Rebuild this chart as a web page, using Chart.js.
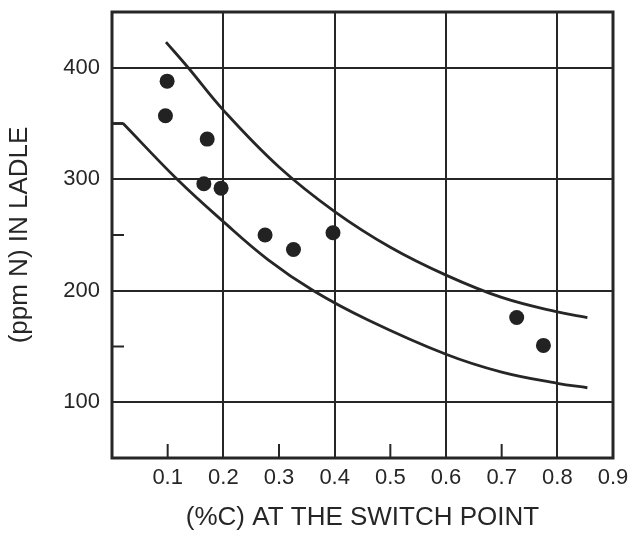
<!DOCTYPE html>
<html>
<head>
<meta charset="utf-8">
<script src="https://cdn.jsdelivr.net/npm/chart.js@4.4.1/dist/chart.umd.min.js"></script>
<style>
  html, body { margin: 0; padding: 0; background: #ffffff; }
  #wrap { width: 634px; height: 536px; }
</style>
</head>
<body>
<div id="wrap"><canvas id="c" width="634" height="536"></canvas></div>
<script>
// Measured points: %C at switch point vs ppm N in ladle
const pointC = [0.099, 0.096, 0.171, 0.165, 0.196, 0.275, 0.326, 0.397, 0.727, 0.775];
const pointN = [388, 357, 336, 296, 292, 250, 237, 252, 176, 151];

// Upper band curve
const upperC = [0.097, 0.137, 0.2, 0.3, 0.4, 0.5, 0.6, 0.7, 0.8, 0.854];
const upperN = [423, 400, 362, 311, 271, 239, 214, 194, 181, 176];

// Lower band curve (flat start, then decaying)
const lowerFlatC = [0, 0.02];
const lowerFlatN = [350, 350];
const lowerC = [0.02, 0.117, 0.2, 0.28, 0.362, 0.459, 0.6, 0.7, 0.8, 0.854];
const lowerN = [350, 300, 262, 228, 200, 174, 143, 127, 117, 113];

// Axis ticks
const xTickLabels = [0.1, 0.2, 0.3, 0.4, 0.5, 0.6, 0.7, 0.8, 0.9];
const xGridValues = [0.2, 0.4, 0.6, 0.8];
const xMinorTicks = [0.1, 0.3, 0.5, 0.7];
const yTickLabels = [100, 200, 300, 400];
const yMinorTicks = [150, 250, 350];

const INK = '#262626';
const FONT = "'Liberation Sans', Arial, Helvetica, sans-serif";

const toXY = (xs, ys) => xs.map((x, i) => ({ x: x, y: ys[i] }));
const near = (v, arr) => arr.some(a => Math.abs(a - v) < 1e-6);

const frame = {
  id: 'frame',
  afterDraw(chart) {
    const { ctx, chartArea: a, scales } = chart;
    ctx.save();
    ctx.strokeStyle = INK;
    ctx.lineCap = 'butt';
    ctx.lineWidth = 2;
    xMinorTicks.forEach(v => {
      const px = scales.x.getPixelForValue(v);
      ctx.beginPath(); ctx.moveTo(px, a.bottom); ctx.lineTo(px, a.bottom - 14); ctx.stroke();
    });
    yMinorTicks.forEach(v => {
      const py = scales.y.getPixelForValue(v);
      ctx.beginPath(); ctx.moveTo(a.left, py); ctx.lineTo(a.left + 12, py); ctx.stroke();
    });
    ctx.lineWidth = 3;
    ctx.strokeRect(a.left, a.top, a.right - a.left, a.bottom - a.top);
    ctx.restore();
  }
};

const curveStyle = {
  showLine: true,
  borderColor: INK,
  borderWidth: 2.8,
  pointRadius: 0,
  tension: 0.4,
  fill: false
};

new Chart(document.getElementById('c'), {
  type: 'scatter',
  data: {
    datasets: [
      {
        label: 'data',
        data: toXY(pointC, pointN),
        backgroundColor: '#222222',
        borderColor: '#222222',
        pointRadius: 7.5,
        pointBorderWidth: 0,
        showLine: false
      },
      Object.assign({ label: 'upper', data: toXY(upperC, upperN) }, curveStyle),
      Object.assign({ label: 'lowerFlat', data: toXY(lowerFlatC, lowerFlatN) }, curveStyle, { tension: 0 }),
      Object.assign({ label: 'lower', data: toXY(lowerC, lowerN) }, curveStyle)
    ]
  },
  options: {
    responsive: false,
    animation: false,
    devicePixelRatio: 1,
    layout: { padding: { top: 12, right: 21, left: 0, bottom: 0 } },
    plugins: {
      legend: { display: false },
      tooltip: { enabled: false }
    },
    scales: {
      x: {
        type: 'linear',
        min: 0,
        max: 0.9,
        afterFit(s) { s.height = 78; s.paddingLeft = 0; s.paddingRight = 0; },
        afterBuildTicks(s) {
          s.ticks = xTickLabels.map(v => ({ value: v }));
        },
        border: { display: false },
        grid: {
          drawTicks: false,
          lineWidth: 2,
          color: (c) => (c.tick && near(c.tick.value, xGridValues)) ? INK : 'rgba(0,0,0,0)'
        },
        ticks: {
          padding: 7,
          color: INK,
          font: { family: FONT, size: 22 },
          maxRotation: 0,
          autoSkip: false,
          callback: (v) => Number(v).toFixed(1)
        },
        title: {
          display: true,
          text: '(%C) AT THE SWITCH POINT',
          color: INK,
          font: { family: FONT, size: 26 },
          padding: { top: 0, bottom: 3 }
        }
      },
      y: {
        type: 'linear',
        min: 50,
        max: 450,
        afterFit(s) { s.width = 112; s.paddingTop = 0; s.paddingBottom = 0; },
        afterBuildTicks(s) {
          s.ticks = yTickLabels.map(v => ({ value: v }));
        },
        border: { display: false },
        grid: {
          drawTicks: false,
          lineWidth: 2,
          color: INK
        },
        ticks: {
          padding: 12,
          color: INK,
          font: { family: FONT, size: 22 },
          autoSkip: false,
          callback: (v) => String(v)
        },
        title: {
          display: true,
          text: '(ppm N) IN LADLE',
          color: INK,
          font: { family: FONT, size: 26 },
          padding: { top: 4, bottom: 0 }
        }
      }
    }
  },
  plugins: [frame]
});
</script>
</body>
</html>
